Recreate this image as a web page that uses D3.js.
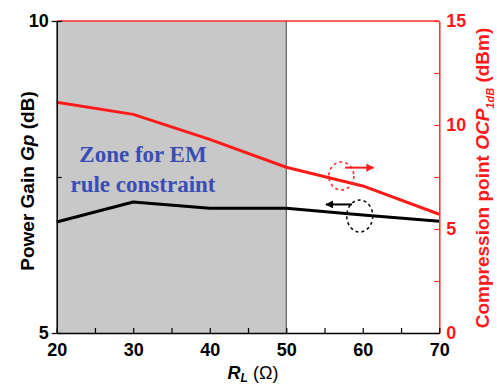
<!DOCTYPE html>
<html><head><meta charset="utf-8">
<script src="https://cdn.jsdelivr.net/npm/d3@7"></script>
<style>
html,body{margin:0;padding:0;background:#fff;}
svg{display:block;}
</style></head>
<body>
<svg id="c" width="497" height="386"></svg>
<script>
// ---- data ----
const rl = [20, 30, 40, 50, 60, 70];
const gainDb = [6.78, 7.10, 7.00, 7.00, 6.89, 6.79];
const ocpDbm = [11.09, 10.51, 9.31, 7.97, 7.07, 5.71];
const xTicks = [20, 30, 40, 50, 60, 70];
const xMinor = [25, 35, 45, 55, 65];
const yLeftTicks = [5, 10];
const yLeftMinor = [7.5];
const yRightTicks = [0, 5, 10, 15];
const yRightMinor = [2.5, 7.5, 12.5];
const zoneRange = [20, 50];
const zoneLines = ["Zone for EM", "rule constraint"];

const svg = d3.select("#c");
const L = 56.7, R = 439.3, T = 21, B = 333;
const x = d3.scaleLinear().domain([20, 70]).range([L, R]);
const yL = d3.scaleLinear().domain([5, 10]).range([B, T]);
const yR = d3.scaleLinear().domain([0, 15]).range([B, T]);
const font = "'Liberation Sans', Arial, sans-serif";

// shaded zone
svg.append("rect").attr("x", x(zoneRange[0])).attr("y", T)
  .attr("width", x(zoneRange[1]) - x(zoneRange[0])).attr("height", B - T)
  .attr("fill", "#c8c8c8");
svg.append("line").attr("x1", x(zoneRange[1])).attr("x2", x(zoneRange[1]))
  .attr("y1", T).attr("y2", B).attr("stroke", "#444").attr("stroke-width", 1);

// zone text
const zt = svg.append("text").attr("text-anchor", "middle")
  .attr("font-family", "'Liberation Serif','Times New Roman',serif")
  .attr("font-weight", "bold").attr("font-size", 23).attr("fill", "#3a4db5");
zoneLines.forEach((t, i) => zt.append("tspan").attr("x", 143).attr("y", 162 + i * 30).text(t));

// lines
const lineG = d3.line().x((d, i) => x(rl[i])).y(d => yL(d));
const lineO = d3.line().x((d, i) => x(rl[i])).y(d => yR(d));
svg.append("path").attr("d", lineG(gainDb)).attr("fill", "none")
  .attr("stroke", "#000").attr("stroke-width", 3).attr("stroke-linejoin", "round");
svg.append("path").attr("d", lineO(ocpDbm)).attr("fill", "none")
  .attr("stroke", "#ff1a1a").attr("stroke-width", 3).attr("stroke-linejoin", "round");

// annotations: dashed ellipses and arrows
svg.append("ellipse").attr("cx", x(57.2)).attr("cy", yR(7.55)).attr("rx", 12.5).attr("ry", 14)
  .attr("fill", "none").attr("stroke", "#ff3030").attr("stroke-width", 1.6).attr("stroke-dasharray", "3,3");
svg.append("ellipse").attr("cx", x(59.6)).attr("cy", yL(6.875)).attr("rx", 13).attr("ry", 16)
  .attr("fill", "none").attr("stroke", "#111").attr("stroke-width", 1.6).attr("stroke-dasharray", "3,3");
const defs = svg.append("defs");
[["ar", "#ff1a1a"], ["ab", "#000"]].forEach(([id, c]) => {
  defs.append("marker").attr("id", id).attr("viewBox", "0 0 10 10").attr("refX", 9).attr("refY", 5)
    .attr("markerWidth", 4).attr("markerHeight", 4).attr("orient", "auto")
    .append("path").attr("d", "M0,0 L10,5 L0,10 z").attr("fill", c);
});
svg.append("line").attr("x1", x(57.7)).attr("x2", x(61.4)).attr("y1", yR(7.95)).attr("y2", yR(7.95))
  .attr("stroke", "#ff1a1a").attr("stroke-width", 2).attr("marker-end", "url(#ar)");
svg.append("line").attr("x1", x(58.6)).attr("x2", x(55.2)).attr("y1", yL(7.06)).attr("y2", yL(7.06))
  .attr("stroke", "#000").attr("stroke-width", 2).attr("marker-end", "url(#ab)");

// frame: top red
svg.append("line").attr("x1", L).attr("x2", R).attr("y1", T).attr("y2", T).attr("stroke", "#ff2a2a").attr("stroke-width", 1.5);

function styleAxis(g, color) {
  g.select(".domain").attr("stroke", color).attr("stroke-width", 1.5);
  g.selectAll(".tick line").attr("stroke", color).attr("stroke-width", 1.2);
  g.selectAll("text").attr("fill", color).attr("font-family", font)
    .attr("font-weight", "bold").attr("font-size", 18);
}

// left axis
const gl1 = svg.append("g").attr("transform", `translate(${L},0)`)
  .call(d3.axisLeft(yL).tickValues(yLeftTicks.concat(yLeftMinor)).tickFormat("").tickSizeInner(-5).tickSizeOuter(0));
styleAxis(gl1, "#000");
const gl2 = svg.append("g").attr("transform", `translate(${L},0)`)
  .call(d3.axisLeft(yL).tickValues(yLeftTicks).tickFormat(d3.format("d")).tickSize(5).tickPadding(3));
styleAxis(gl2, "#000");
gl2.select(".domain").remove();

// right axis
const gr1 = svg.append("g").attr("transform", `translate(${R},0)`)
  .call(d3.axisRight(yR).tickValues(yRightTicks.concat(yRightMinor)).tickFormat("").tickSizeInner(-5).tickSizeOuter(0));
styleAxis(gr1, "#ff2a2a");
const gr2 = svg.append("g").attr("transform", `translate(${R},0)`)
  .call(d3.axisRight(yR).tickValues(yRightTicks).tickFormat(d3.format("d")).tickSize(0).tickPadding(7));
styleAxis(gr2, "#ff1a1a");
gr2.select(".domain").remove();

// bottom axis
const gb = svg.append("g").attr("transform", `translate(0,${B})`)
  .call(d3.axisBottom(x).tickValues(xTicks.concat(xMinor)).tickFormat(d => xTicks.includes(d) ? d : "")
    .tickSizeInner(-5).tickSizeOuter(0).tickPadding(10));
styleAxis(gb, "#000");

// axis titles
const xt = svg.append("text").attr("x", 253).attr("y", 379).attr("text-anchor", "middle")
  .attr("font-family", font).attr("font-weight", "bold").attr("font-size", 18).attr("fill", "#000");
xt.append("tspan").attr("font-style", "italic").text("R");
xt.append("tspan").attr("font-style", "italic").attr("font-size", 12).attr("dy", 3).text("L");
xt.append("tspan").attr("dy", -3).attr("font-weight", "normal").text(" (Ω)");

const yt = svg.append("text").attr("transform", "translate(34,181) rotate(-90)").attr("text-anchor", "middle")
  .attr("font-family", font).attr("font-weight", "bold").attr("font-size", 19).attr("fill", "#000");
yt.append("tspan").text("Power Gain ");
yt.append("tspan").attr("font-style", "italic").text("Gp");
yt.append("tspan").text(" (dB)");

const rt = svg.append("text").attr("transform", "translate(489,178) rotate(-90)").attr("text-anchor", "middle")
  .attr("font-family", font).attr("font-weight", "bold").attr("font-size", 19).attr("fill", "#ff1a1a");
rt.append("tspan").text("Compression point ");
rt.append("tspan").attr("font-style", "italic").text("OCP");
rt.append("tspan").attr("font-style", "italic").attr("font-size", 11).attr("dy", 5).text("1dB");
rt.append("tspan").attr("dy", -5).text(" (dBm)");
</script>
</body></html>
